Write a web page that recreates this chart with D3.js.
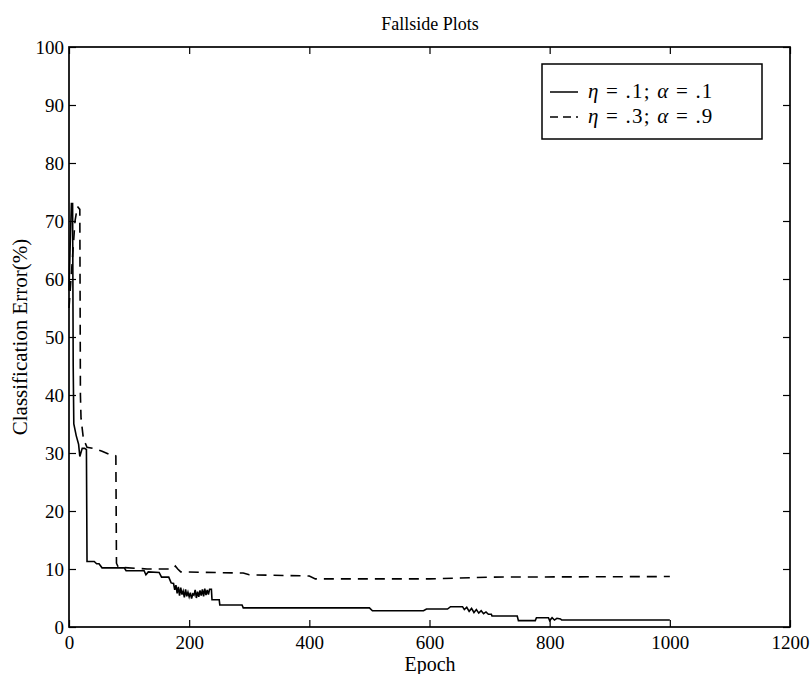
<!DOCTYPE html>
<html lang="en">
<head>
<meta charset="UTF-8">
<script src="https://d3js.org/d3.v7.min.js"></script>
<title>Fallside Plots</title>
<style>
  body { margin: 0; background: #fff; }
  svg { display: block; }
  text { font-family: "Liberation Serif", "DejaVu Serif", serif; fill: #000; }
  .tick text { font-size: 18px; }
</style>
</head>
<body>
<svg id="chart" width="812" height="674"></svg>
<script>
// series 1: eta = .1, alpha = .1 (solid)   [epoch, error %]
const solidEpochs = [0, 2, 4, 6, 7, 8, 12, 16, 18, 22, 26, 29, 30, 42, 46, 50, 55, 92, 95, 125, 128, 132, 150, 154, 166, 170, 174,
  176, 178, 180, 182, 184, 186, 188, 190, 192, 194, 196, 198, 200, 202, 204, 206, 208, 210, 212, 214, 216, 218, 220, 222, 224,
  226, 228, 230, 232, 234, 237, 238, 250, 251, 288, 290, 500, 505, 590, 595, 630, 635, 655, 658, 662, 666, 670, 674, 678, 682,
  686, 690, 694, 698, 703, 704, 746, 748, 776, 778, 798, 800, 804, 808, 812, 818, 820, 1000];
const solidErrors = [58, 66, 73, 73, 45, 35, 33, 31.5, 29.4, 30.8, 30.8, 30.6, 11.3, 11.3, 10.9, 10.9, 10.2, 10.2, 9.7, 9.7, 9.0, 9.5, 9.4, 8.6, 8.6, 7.6, 7.5,
  6.4, 7.2, 5.8, 6.9, 5.4, 6.8, 5.6, 6.2, 5.1, 6.5, 5.3, 6.0, 5.2, 5.9, 4.9, 5.7, 5.5, 6.4, 5.0, 6.1, 5.2, 6.3, 5.4, 6.5, 5.3,
  6.6, 5.5, 6.4, 5.6, 6.5, 6.5, 4.7, 4.7, 3.8, 3.8, 3.3, 3.3, 2.8, 2.8, 3.1, 3.1, 3.5, 3.5, 3.0, 3.4, 2.7, 3.2, 2.5, 3.0, 2.4,
  2.8, 2.3, 2.6, 2.2, 2.2, 1.9, 1.9, 1.1, 1.1, 1.6, 1.6, 1.1, 1.6, 1.2, 1.5, 1.4, 1.2, 1.2];

// series 2: eta = .3, alpha = .9 (dashed)
const dashEpochs = [0, 6, 10, 14, 18, 19, 20, 24, 30, 40, 55, 66, 72, 78, 79, 82, 130, 173, 177, 181, 186, 290, 300, 400, 410, 600, 700, 1000];
const dashErrors = [55, 64, 70, 72.5, 72, 40, 36, 32.4, 31, 30.8, 30.3, 29.8, 29.8, 29.5, 11, 10.3, 10.0, 10.0, 10.5, 10.0, 9.5, 9.3, 9.0, 8.8, 8.3, 8.3, 8.6, 8.7];

const xTicks = [0, 200, 400, 600, 800, 1000, 1200];
const yTicks = [0, 10, 20, 30, 40, 50, 60, 70, 80, 90, 100];
const legendLabels = [["η", " = .1; ", "α", " = .1"], ["η", " = .3; ", "α", " = .9"]];

const svg = d3.select("svg#chart");
const margin = {top: 47, right: 22, bottom: 47, left: 69};
const width = +svg.attr("width");
const height = +svg.attr("height");
const chartWidth = width - margin.left - margin.right;
const chartHeight = height - margin.top - margin.bottom;

const x = d3.scaleLinear().domain([0, 1200]).range([0, chartWidth]);
const y = d3.scaleLinear().domain([0, 100]).range([chartHeight, 0]);

const g = svg.append("g").attr("transform", `translate(${margin.left},${margin.top})`);

// axes with inward ticks on all four sides
g.append("g")
  .attr("transform", `translate(0,${chartHeight})`)
  .call(d3.axisBottom(x).tickValues(xTicks).tickFormat(d3.format("d"))
    .tickSizeInner(-7).tickSizeOuter(0).tickPadding(9))
  .call(a => a.select(".domain").remove());
g.append("g")
  .call(d3.axisTop(x).tickValues(xTicks).tickSizeInner(-7).tickSizeOuter(0).tickFormat(""))
  .call(a => a.select(".domain").remove());
g.append("g")
  .call(d3.axisLeft(y).tickValues(yTicks).tickSizeInner(-7).tickSizeOuter(0).tickPadding(5))
  .call(a => a.select(".domain").remove());
g.append("g")
  .attr("transform", `translate(${chartWidth},0)`)
  .call(d3.axisRight(y).tickValues(yTicks).tickSizeInner(-7).tickSizeOuter(0).tickFormat(""))
  .call(a => a.select(".domain").remove());

g.selectAll(".tick line").attr("stroke", "#000").attr("stroke-width", 1.2);
g.selectAll(".tick text").style("font-size", "19px");

g.append("rect")
  .attr("width", chartWidth).attr("height", chartHeight)
  .attr("fill", "none").attr("stroke", "#000").attr("stroke-width", 1.7);

// lines
const line = d3.line().x(d => x(d[0])).y(d => y(d[1]));
const solid = solidEpochs.map((e, i) => [e, solidErrors[i]]);
const dashed = dashEpochs.map((e, i) => [e, dashErrors[i]]);

g.append("path").datum(solid).attr("d", line)
  .attr("fill", "none").attr("stroke", "#000").attr("stroke-width", 1.6);
g.append("path").datum(dashed).attr("d", line)
  .attr("fill", "none").attr("stroke", "#000").attr("stroke-width", 1.6)
  .attr("stroke-dasharray", "10,7");

// legend
const legend = svg.append("g").attr("transform", "translate(542,64)");
legend.append("rect").attr("width", 220).attr("height", 75)
  .attr("fill", "#fff").attr("stroke", "#000").attr("stroke-width", 1.5);
legendLabels.forEach((parts, i) => {
  const yy = 28 + i * 25;
  legend.append("line")
    .attr("x1", 8).attr("x2", 36).attr("y1", yy).attr("y2", yy)
    .attr("stroke", "#000").attr("stroke-width", 1.5)
    .attr("stroke-dasharray", i === 1 ? "8,5" : null);
  const t = legend.append("text").attr("x", 46).attr("y", yy + 6)
    .style("font-size", "21px").style("letter-spacing", "1.2px").style("white-space", "pre");
  parts.forEach((p, j) => {
    t.append("tspan").text(p).style("font-style", j % 2 === 0 ? "italic" : "normal");
  });
});

// titles
svg.append("text").attr("x", 430).attr("y", 30).attr("text-anchor", "middle")
  .style("font-size", "18px").text("Fallside Plots");
svg.append("text").attr("x", 430).attr("y", 671).attr("text-anchor", "middle")
  .style("font-size", "20px").text("Epoch");
svg.append("text")
  .attr("transform", `translate(27,${margin.top + chartHeight / 2}) rotate(-90)`)
  .attr("text-anchor", "middle").style("font-size", "21px").text("Classification Error(%)");
</script>
</body>
</html>
